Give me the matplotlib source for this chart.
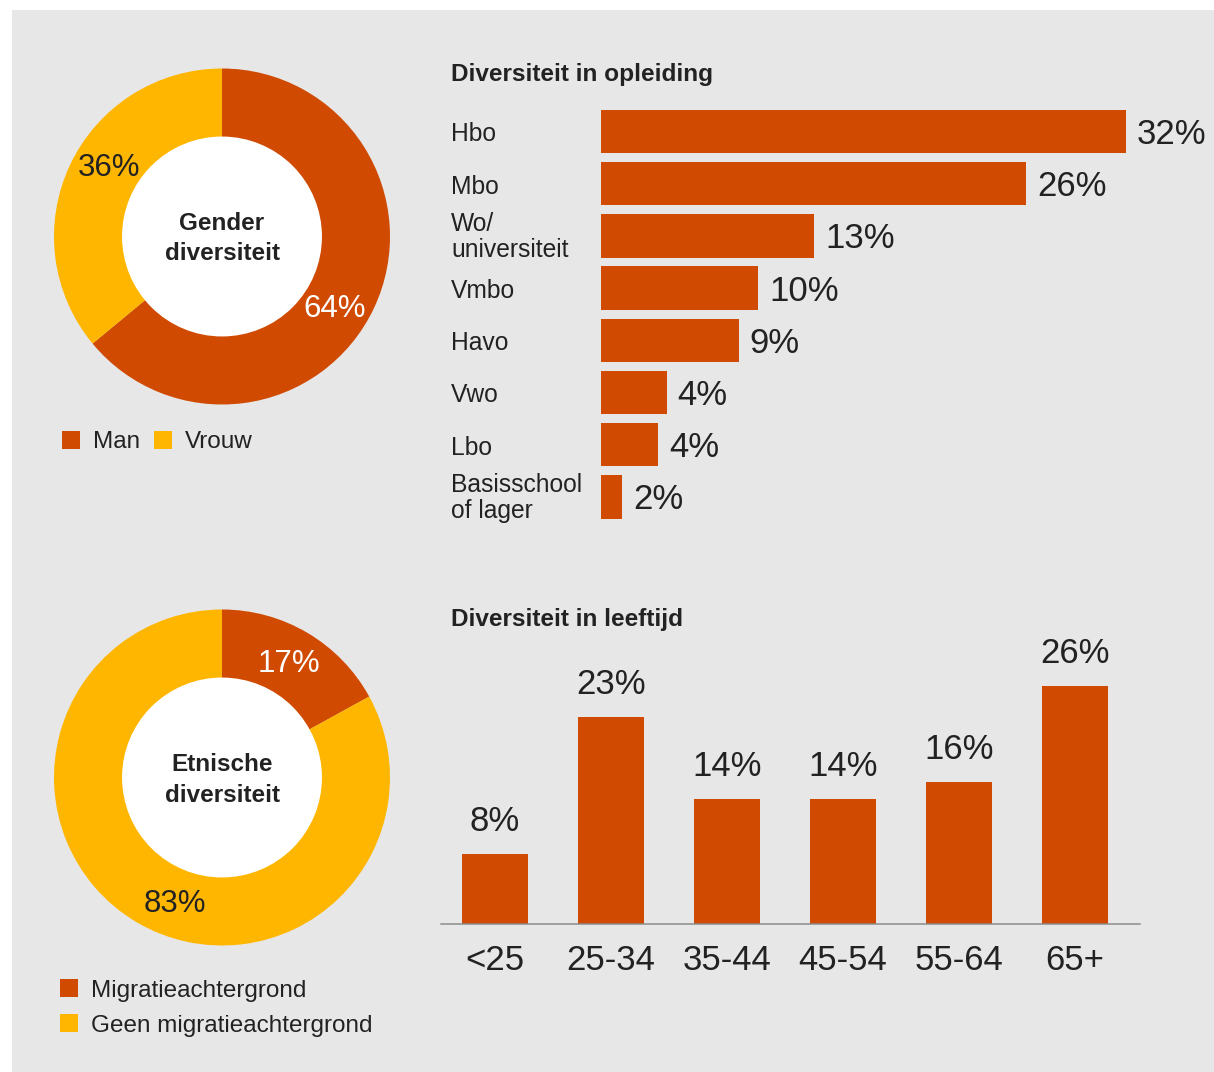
import matplotlib
matplotlib.use("Agg")
import matplotlib.pyplot as plt
from matplotlib.patches import Rectangle, Circle

plt.rcParams['font.family'] = ['Liberation Sans', 'DejaVu Sans']

# ---------------- data ----------------
gender_labels = ["Man", "Vrouw"]
gender_values = [64, 36]
gender_pct = ["64%", "36%"]

etnisch_labels = ["Migratieachtergrond", "Geen migratieachtergrond"]
etnisch_values = [17, 83]
etnisch_pct = ["17%", "83%"]

opleiding_cats = ["Hbo", "Mbo", "Wo/\nuniversiteit", "Vmbo", "Havo", "Vwo", "Lbo",
                  "Basisschool\nof lager"]
opleiding_values = [32.0, 25.9, 13.0, 9.6, 8.4, 4.0, 3.5, 1.3]
opleiding_text = ["32%", "26%", "13%", "10%", "9%", "4%", "4%", "2%"]

leeftijd_cats = ["<25", "25-34", "35-44", "45-54", "55-64", "65+"]
leeftijd_values = [7.8, 23.1, 14.0, 14.0, 15.9, 26.6]
leeftijd_text = ["8%", "23%", "14%", "14%", "16%", "26%"]

# ---------------- style ----------------
ORANGE = "#D04A02"
YELLOW = "#FFB600"
BG = "#E7E7E7"
TXT = "#222222"

W, H = 1214, 1072
fig = plt.figure(figsize=(W / 100, H / 100), dpi=100)
fig.patch.set_facecolor("white")
PT = 0.72  # points per pixel


def fx(px):
    return px / W


def fy(py):
    return 1 - py / H


def axes_px(left, top, right, bottom):
    return fig.add_axes([left / W, 1 - bottom / H, (right - left) / W, (bottom - top) / H])


fig.patches.append(Rectangle((fx(12), 0), 1 - fx(12), fy(10), transform=fig.transFigure,
                             facecolor=BG, edgecolor="none", zorder=-10))


def donut(box, values, colors, center_lines, center_base, pct, pct_pos, pct_colors):
    ax = axes_px(*box)
    ax.patch.set_alpha(0)
    ax.pie(values, colors=colors, startangle=90, counterclock=False, radius=1,
           wedgeprops=dict(width=0.41, edgecolor="none", linewidth=0))
    ax.add_patch(Circle((0, 0), 0.595, facecolor="white", edgecolor="none", zorder=5))
    ax.set_xlim(-1, 1)
    ax.set_ylim(-1, 1)
    ax.set_aspect("auto")
    ax.axis("off")
    cx = (box[0] + box[2]) / 2
    for line, b in zip(center_lines, center_base):
        fig.text(fx(cx), fy(b), line, ha="center", va="baseline", fontsize=17.5,
                 fontweight="bold", color=TXT)
    for t, (px, py), c in zip(pct, pct_pos, pct_colors):
        fig.text(fx(px), fy(py), t, ha="center", va="baseline", fontsize=22.5, color=c)


donut((54, 68.5, 390, 404.5), gender_values, [ORANGE, YELLOW],
      ["Gender", "diversiteit"], [230, 260],
      gender_pct, [(335, 317), (109, 176)], ["white", TXT])

donut((54, 609.5, 390, 945.5), etnisch_values, [ORANGE, YELLOW],
      ["Etnische", "diversiteit"], [771, 802],
      etnisch_pct, [(289, 672), (174.5, 912)], ["white", TXT])

# legends
def legend_item(x_sq, y_top, color, label, x_txt, base):
    fig.patches.append(Rectangle((fx(x_sq), fy(y_top + 18)), 18 / W, 18 / H,
                                 transform=fig.transFigure, facecolor=color,
                                 edgecolor="none", zorder=3))
    fig.text(fx(x_txt), fy(base), label, ha="left", va="baseline", fontsize=17.5, color=TXT)


legend_item(62, 431, ORANGE, gender_labels[0], 93, 448)
legend_item(154, 431, YELLOW, gender_labels[1], 185, 448)
legend_item(60, 979, ORANGE, etnisch_labels[0], 91, 997)
legend_item(60, 1014, YELLOW, etnisch_labels[1], 91, 1032)

# ---------------- horizontal bars ----------------
fig.text(fx(451), fy(81), "Diversiteit in opleiding", ha="left", va="baseline",
         fontsize=17.6, fontweight="bold", color=TXT)

n = len(opleiding_cats)
pitch = 52.2
top = 131.5 - pitch / 2
axh = axes_px(601, top, 601 + 16.4 * 36, top + pitch * n)
axh.patch.set_alpha(0)
ypos = list(range(n))
axh.barh(ypos, opleiding_values, height=43.5 / pitch, color=ORANGE, linewidth=0)
axh.set_xlim(0, 36)
axh.set_ylim(n - 0.5, -0.5)
axh.axis("off")
for i, (cat, v, t) in enumerate(zip(opleiding_cats, opleiding_values, opleiding_text)):
    lines = cat.split("\n")
    offs = [10] if len(lines) == 1 else [-4.5, 21.5]
    for line, o in zip(lines, offs):
        axh.annotate(line, xy=(fx(451), i), xycoords=("figure fraction", "data"),
                     xytext=(0, -o * PT), textcoords="offset points",
                     ha="left", va="baseline", fontsize=17.7, color=TXT,
                     annotation_clip=False)
    axh.annotate(t, xy=(v, i), xytext=(11 * PT, -12.5 * PT), textcoords="offset points",
                 ha="left", va="baseline", fontsize=25, color=TXT, annotation_clip=False)

# ---------------- vertical bars ----------------
fig.text(fx(451), fy(626), "Diversiteit in leeftijd", ha="left", va="baseline",
         fontsize=17.6, fontweight="bold", color=TXT)

scale = 8.95
axv = axes_px(441, 924 - 30 * scale, 1140, 924)
axv.patch.set_alpha(0)
xpos = list(range(len(leeftijd_cats)))
axv.bar(xpos, leeftijd_values, width=66 / 116, color=ORANGE, linewidth=0, zorder=2)
axv.set_xlim(-0.466, 5.56)
axv.set_ylim(0, 30)
for s in ["top", "right", "left"]:
    axv.spines[s].set_visible(False)
axv.spines["bottom"].set_color("#8a8a8a")
axv.spines["bottom"].set_linewidth(1.5 * PT)
axv.spines["bottom"].set_zorder(3)
axv.set_xticks([])
axv.set_yticks([])
for i, (cat, v, t) in enumerate(zip(leeftijd_cats, leeftijd_values, leeftijd_text)):
    axv.annotate(cat, xy=(i, 0), xytext=(0, -46 * PT), textcoords="offset points",
                 ha="center", va="baseline", fontsize=25, color=TXT, annotation_clip=False)
    axv.annotate(t, xy=(i, v), xytext=(0, 23 * PT), textcoords="offset points",
                 ha="center", va="baseline", fontsize=25, color=TXT, annotation_clip=False)

fig.savefig("out.png", dpi=100, facecolor=fig.get_facecolor())
